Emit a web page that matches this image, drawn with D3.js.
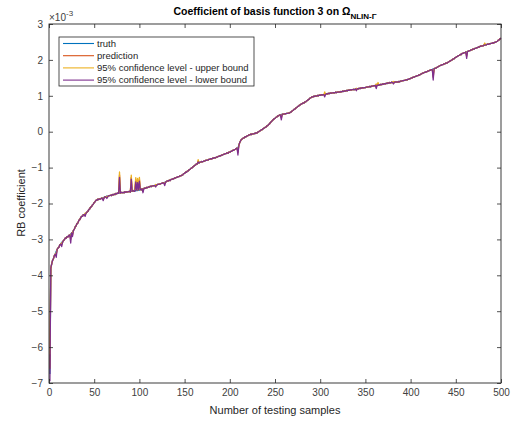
<!DOCTYPE html>
<html>
<head>
<meta charset="utf-8">
<script src="https://cdn.jsdelivr.net/npm/d3@7"></script>
<style>
	body { margin: 0; background: #fff; }
	svg { font-family: "Liberation Sans", Arial, sans-serif; }
	.axis text { fill: #404040; font-size: 10px; }
	.axis path, .axis line { stroke: #262626; }
</style>
</head>
<body>
<script>
// values in units of 1e-3, sample index 1..500
const truth = [
	-6.75,-3.80,-3.68,-3.58,-3.53,-3.45,-3.41,-3.33,-3.28,-3.24,-3.22,-3.15,-3.13,-3.08,-3.08,-3.03,-3.01,-2.96,-2.97,-2.92,
	-2.93,-2.89,-2.88,-2.86,-2.82,-2.80,-2.75,-2.72,-2.65,-2.62,-2.56,-2.54,-2.47,-2.45,-2.40,-2.36,-2.36,-2.31,-2.31,-2.28,
	-2.27,-2.24,-2.22,-2.17,-2.15,-2.10,-2.09,-2.04,-2.02,-1.97,-1.95,-1.91,-1.91,-1.88,-1.89,-1.87,-1.88,-1.85,-1.86,-1.83,
	-1.84,-1.81,-1.82,-1.79,-1.81,-1.78,-1.78,-1.77,-1.78,-1.75,-1.76,-1.74,-1.75,-1.72,-1.73,-1.71,-1.72,-1.70,-1.71,-1.69,
	-1.70,-1.69,-1.70,-1.67,-1.69,-1.67,-1.68,-1.67,-1.66,-1.68,-1.65,-1.66,-1.64,-1.66,-1.63,-1.65,-1.63,-1.64,-1.62,-1.63,
	-1.61,-1.62,-1.59,-1.60,-1.58,-1.57,-1.58,-1.55,-1.56,-1.54,-1.54,-1.52,-1.53,-1.51,-1.51,-1.50,-1.50,-1.48,-1.49,-1.47,
	-1.47,-1.46,-1.46,-1.44,-1.44,-1.42,-1.43,-1.41,-1.40,-1.39,-1.37,-1.37,-1.35,-1.36,-1.33,-1.33,-1.31,-1.31,-1.29,-1.29,
	-1.27,-1.27,-1.25,-1.25,-1.23,-1.23,-1.21,-1.20,-1.17,-1.16,-1.13,-1.13,-1.10,-1.09,-1.06,-1.05,-1.02,-1.01,-0.98,-0.97,
	-0.94,-0.93,-0.90,-0.90,-0.87,-0.87,-0.85,-0.85,-0.83,-0.84,-0.82,-0.82,-0.80,-0.80,-0.79,-0.79,-0.77,-0.77,-0.75,-0.76,
	-0.74,-0.74,-0.72,-0.73,-0.71,-0.71,-0.69,-0.69,-0.67,-0.67,-0.65,-0.65,-0.63,-0.63,-0.61,-0.61,-0.59,-0.60,-0.57,-0.57,
	-0.55,-0.55,-0.52,-0.52,-0.50,-0.49,-0.47,-0.46,-0.45,-0.38,-0.30,-0.25,-0.21,-0.20,-0.17,-0.17,-0.14,-0.14,-0.12,-0.11,
	-0.09,-0.09,-0.07,-0.08,-0.06,-0.06,-0.05,-0.05,-0.03,-0.04,-0.01,0.00,0.02,0.03,0.06,0.06,0.09,0.10,0.12,0.13,
	0.16,0.17,0.20,0.22,0.26,0.28,0.31,0.33,0.36,0.37,0.40,0.41,0.44,0.44,0.47,0.47,0.48,0.48,0.49,0.49,
	0.50,0.50,0.51,0.51,0.52,0.52,0.54,0.55,0.58,0.59,0.62,0.63,0.66,0.67,0.70,0.71,0.74,0.75,0.77,0.78,
	0.80,0.80,0.83,0.83,0.86,0.87,0.90,0.91,0.94,0.95,0.97,0.97,0.99,0.98,1.00,0.99,1.01,1.00,1.02,1.01,
	1.03,1.02,1.03,1.03,1.04,1.04,1.06,1.05,1.07,1.06,1.08,1.07,1.08,1.08,1.09,1.08,1.10,1.09,1.10,1.10,
	1.11,1.10,1.12,1.11,1.13,1.12,1.14,1.13,1.15,1.14,1.16,1.15,1.17,1.16,1.17,1.17,1.18,1.17,1.19,1.18,
	1.20,1.19,1.21,1.20,1.22,1.21,1.23,1.22,1.23,1.23,1.24,1.24,1.25,1.25,1.26,1.25,1.27,1.27,1.28,1.28,
	1.29,1.28,1.30,1.29,1.31,1.30,1.32,1.31,1.33,1.32,1.34,1.33,1.35,1.34,1.36,1.35,1.37,1.36,1.38,1.37,
	1.38,1.37,1.39,1.38,1.39,1.38,1.40,1.39,1.41,1.41,1.42,1.42,1.43,1.43,1.45,1.44,1.46,1.46,1.48,1.48,
	1.50,1.50,1.52,1.52,1.54,1.54,1.56,1.56,1.58,1.58,1.60,1.61,1.63,1.63,1.65,1.65,1.67,1.67,1.69,1.69,
	1.71,1.71,1.73,1.73,1.75,1.75,1.77,1.77,1.79,1.80,1.82,1.83,1.85,1.85,1.87,1.87,1.89,1.89,1.91,1.91,
	1.93,1.94,1.96,1.97,1.99,2.00,2.03,2.03,2.06,2.07,2.09,2.10,2.12,2.13,2.15,2.15,2.18,2.18,2.20,2.20,
	2.22,2.22,2.24,2.24,2.26,2.26,2.28,2.28,2.30,2.30,2.32,2.32,2.34,2.34,2.36,2.36,2.38,2.38,2.39,2.39,
	2.41,2.41,2.42,2.42,2.44,2.43,2.45,2.45,2.46,2.46,2.48,2.47,2.49,2.49,2.51,2.52,2.55,2.56,2.59,2.60
];

// samples where prediction / bounds leave the truth: [sample, prediction, upper, lower]
const spikes = [
	[1, -6.60, -6.20, -6.95],
	[8, -3.42, -3.38, -3.50],
	[14, -3.14, -3.10, -3.20],
	[24, -3.00, -2.92, -3.10],
	[26, -2.88, -2.84, -2.92],
	[40, -2.32, -2.27, -2.36],
	[60, -1.88, -1.85, -1.92],
	[64, -1.83, -1.80, -1.86],
	[78, -1.20, -1.12, -1.27],
	[91, -1.27, -1.21, -1.32],
	[95, -1.60, -1.57, -1.66],
	[96, -1.34, -1.28, -1.40],
	[98, -1.36, -1.30, -1.42],
	[100, -1.33, -1.27, -1.38],
	[104, -1.66, -1.63, -1.70],
	[118, -1.51, -1.47, -1.54],
	[128, -1.46, -1.43, -1.50],
	[165, -0.82, -0.78, -0.84],
	[209, -0.58, -0.53, -0.65],
	[257, 0.38, 0.42, 0.33],
	[305, 1.05, 1.11, 0.97],
	[340, 1.16, 1.21, 1.14],
	[362, 1.24, 1.33, 1.20],
	[364, 1.33, 1.37, 1.29],
	[381, 1.35, 1.40, 1.33],
	[425, 1.52, 1.60, 1.44],
	[462, 2.10, 2.16, 2.04],
	[482, 2.44, 2.47, 2.41]
];

const seriesNames = ["truth", "prediction", "95% confidence level - upper bound", "95% confidence level - lower bound"];
const seriesColors = ["#0072BD", "#D95319", "#EDB120", "#7E2F8E"];
const xTicks = [0, 50, 100, 150, 200, 250, 300, 350, 400, 450, 500];
const yTicks = [-7, -6, -5, -4, -3, -2, -1, 0, 1, 2, 3];

//build the four series
let prediction = truth.slice(), upper = truth.slice(), lower = truth.slice();
for (let s of spikes) {
	prediction[s[0] - 1] = s[1];
	upper[s[0] - 1] = s[2];
	lower[s[0] - 1] = s[3];
}
const series = [truth, prediction, upper, lower];

const W = 517, H = 423;
const pLeft = 49, pRight = 501, pTop = 24, pBottom = 383;

let svg = d3.select("body").append("svg")
	.attr("width", W)
	.attr("height", H);

let x = d3.scaleLinear().domain([0, 500]).range([pLeft, pRight]);
let y = d3.scaleLinear().domain([-7, 3]).range([pBottom, pTop]);

svg.append("rect")
	.attr("x", pLeft).attr("y", pTop)
	.attr("width", pRight - pLeft).attr("height", pBottom - pTop)
	.attr("fill", "#fff");

//lines
let line = d3.line()
	.x((d, i) => x(i + 1))
	.y(d => y(d));

svg.selectAll("path.series")
	.data(series)
	.enter().append("path")
	.attr("class", "series")
	.attr("d", line)
	.attr("fill", "none")
	.attr("stroke", (d, i) => seriesColors[i])
	.attr("stroke-width", 1.3)
	.attr("stroke-linejoin", "round");

//axes, ticks inward on all four sides
svg.append("g").attr("class", "axis")
	.attr("transform", `translate(0,${pBottom})`)
	.call(d3.axisBottom(x).tickValues(xTicks).tickSizeInner(-4).tickSizeOuter(0).tickPadding(6));
svg.append("g").attr("class", "axis")
	.attr("transform", `translate(0,${pTop})`)
	.call(d3.axisTop(x).tickValues(xTicks).tickSizeInner(-4).tickSizeOuter(0).tickFormat(""));
svg.append("g").attr("class", "axis")
	.attr("transform", `translate(${pLeft},0)`)
	.call(d3.axisLeft(y).tickValues(yTicks).tickSizeInner(-4).tickSizeOuter(0).tickPadding(6));
svg.append("g").attr("class", "axis")
	.attr("transform", `translate(${pRight},0)`)
	.call(d3.axisRight(y).tickValues(yTicks).tickSizeInner(-4).tickSizeOuter(0).tickFormat(""));

svg.selectAll(".axis .domain").remove();
svg.selectAll(".axis .tick line").attr("stroke-width", 0.8);

svg.append("rect")
	.attr("x", pLeft).attr("y", pTop)
	.attr("width", pRight - pLeft).attr("height", pBottom - pTop)
	.attr("fill", "none")
	.attr("stroke", "#262626")
	.attr("stroke-width", 0.9);

//exponent label
let ex = svg.append("text")
	.attr("x", pLeft).attr("y", 21)
	.attr("fill", "#404040")
	.attr("font-size", 10);
ex.append("tspan").text("\u00d710");
ex.append("tspan").attr("dy", -5).attr("font-size", 8).text("-3");

//title
let title = svg.append("text")
	.attr("x", 275).attr("y", 15)
	.attr("text-anchor", "middle")
	.attr("font-weight", "bold")
	.attr("font-size", 10.5)
	.attr("fill", "#000");
title.append("tspan").text("Coefficient of basis function 3 on \u03a9");
title.append("tspan").attr("dy", 4).attr("font-size", 8).text("NLIN-\u0393");

//axis labels
svg.append("text")
	.attr("x", 275).attr("y", 414)
	.attr("text-anchor", "middle")
	.attr("font-size", 11)
	.attr("fill", "#262626")
	.text("Number of testing samples");

svg.append("text")
	.attr("transform", "translate(25,203) rotate(-90)")
	.attr("text-anchor", "middle")
	.attr("font-size", 11)
	.attr("fill", "#262626")
	.text("RB coefficient");

//legend
let legend = svg.append("g");
legend.append("rect")
	.attr("x", 59).attr("y", 37)
	.attr("width", 195).attr("height", 49)
	.attr("fill", "#fff")
	.attr("stroke", "#262626")
	.attr("stroke-width", 0.8);

let rows = legend.selectAll("g.row")
	.data(seriesNames)
	.enter().append("g")
	.attr("transform", (d, i) => `translate(0,${43.5 + i * 12.2})`);
rows.append("line")
	.attr("x1", 63).attr("x2", 94)
	.attr("stroke", (d, i) => seriesColors[i])
	.attr("stroke-width", 1.1);
rows.append("text")
	.attr("x", 97).attr("dy", "0.35em")
	.attr("font-size", 9.5)
	.attr("fill", "#262626")
	.text(d => d);
</script>
</body>
</html>
